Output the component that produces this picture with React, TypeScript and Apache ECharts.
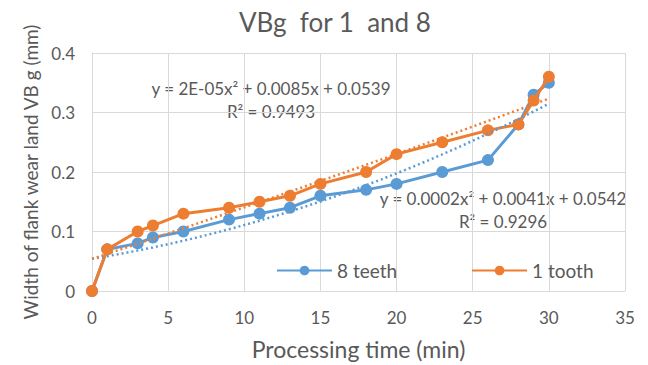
import React, { useEffect, useRef } from "react";
import * as echarts from "echarts";

const timeMin = [0, 1, 3, 4, 6, 9, 11, 13, 15, 18, 20, 23, 26, 28, 29, 30];
const vb8Teeth = [0, 0.07, 0.08, 0.09, 0.1, 0.12, 0.13, 0.14, 0.16, 0.17, 0.18, 0.2, 0.22, 0.28, 0.33, 0.35];
const vb1Tooth = [0, 0.07, 0.1, 0.11, 0.13, 0.14, 0.15, 0.16, 0.18, 0.2, 0.23, 0.25, 0.27, 0.28, 0.32, 0.36];
const seriesNames = ["8 teeth", "1 tooth"];
const eq1Tooth = ["y = 2E-05x² + 0.0085x + 0.0539", "R² = 0.9493"];
const eq8Teeth = ["y = 0.0002x² + 0.0041x + 0.0542", "R² = 0.9296"];

const BLUE = "#5B9BD5";
const ORANGE = "#ED7D31";
const TEXT = "#595959";
const GRID = "#D9D9D9";
const FONT = "Lato, 'Noto Sans', sans-serif";

function polyfit2(xs: number[], ys: number[]): number[] {
  const S = [0, 0, 0, 0, 0];
  const T = [0, 0, 0];
  for (let i = 0; i < xs.length; i++) {
    let p = 1;
    for (let k = 0; k <= 4; k++) {
      S[k] += p;
      if (k <= 2) T[k] += p * ys[i];
      p *= xs[i];
    }
  }
  const A = [
    [S[0], S[1], S[2], T[0]],
    [S[1], S[2], S[3], T[1]],
    [S[2], S[3], S[4], T[2]],
  ];
  for (let c = 0; c < 3; c++) {
    for (let r = c + 1; r < 3; r++) {
      const f = A[r][c] / A[c][c];
      for (let k = c; k < 4; k++) A[r][k] -= f * A[c][k];
    }
  }
  const sol = [0, 0, 0];
  for (let r = 2; r >= 0; r--) {
    let s = A[r][3];
    for (let k = r + 1; k < 3; k++) s -= A[r][k] * sol[k];
    sol[r] = s / A[r][r];
  }
  return sol; // c0, c1, c2
}

function trend(xs: number[], ys: number[]): number[][] {
  const [c0, c1, c2] = polyfit2(xs, ys);
  const pts: number[][] = [];
  const x0 = xs[0];
  const x1 = xs[xs.length - 1];
  for (let i = 0; i <= 60; i++) {
    const x = x0 + ((x1 - x0) * i) / 60;
    pts.push([x, c0 + c1 * x + c2 * x * x]);
  }
  return pts;
}

export default function App() {
  const ref = useRef<HTMLDivElement>(null);
  useEffect(() => {
    if (!ref.current) return;
    const chart = echarts.init(ref.current, undefined, { renderer: "svg" });
    const pair = (ys: number[]) => timeMin.map((x, i) => [x, ys[i]]);
    const eqStyle = (t: string) => ({
      text: t,
      align: "center",
      verticalAlign: "middle",
      font: `17px ${FONT}`,
      fill: TEXT,
    });
    chart.setOption({
      animation: false,
      backgroundColor: "#ffffff",
      textStyle: { fontFamily: FONT },
      title: {
        text: "VBg  for 1  and 8",
        left: 234,
        top: 4,
        textStyle: { fontFamily: FONT, fontSize: 26, fontWeight: "normal", color: TEXT },
      },
      grid: { left: 92, right: 23, top: 53, bottom: 72, containLabel: false },
      legend: {
        data: seriesNames,
        left: 271,
        top: 256,
        itemWidth: 55,
        itemHeight: 12,
        itemGap: 74,
        textStyle: { fontFamily: FONT, fontSize: 19, color: TEXT },
      },
      xAxis: {
        type: "value",
        min: 0,
        max: 35,
        interval: 5,
        name: "Processing time (min)",
        nameLocation: "middle",
        nameGap: 46,
        nameTextStyle: { fontFamily: FONT, fontSize: 23, color: TEXT },
        axisLine: { show: true, lineStyle: { color: GRID } },
        axisTick: { show: false },
        axisLabel: { fontFamily: FONT, fontSize: 17, color: TEXT, margin: 18 },
        splitLine: { show: true, lineStyle: { color: GRID } },
      },
      yAxis: {
        type: "value",
        min: 0,
        max: 0.4,
        interval: 0.1,
        name: "Width of flank wear land VB g (mm)",
        nameLocation: "middle",
        nameGap: 52,
        nameTextStyle: { fontFamily: FONT, fontSize: 19, color: TEXT },
        axisLine: { show: true, lineStyle: { color: GRID } },
        axisTick: { show: false },
        axisLabel: { fontFamily: FONT, fontSize: 17, color: TEXT, margin: 17 },
        splitLine: { show: true, lineStyle: { color: GRID } },
      },
      series: [
        {
          name: seriesNames[0],
          type: "line",
          data: pair(vb8Teeth),
          symbol: "circle",
          symbolSize: 12,
          lineStyle: { color: BLUE, width: 3 },
          itemStyle: { color: BLUE },
          z: 2,
        },
        {
          name: seriesNames[1],
          type: "line",
          data: pair(vb1Tooth),
          symbol: "circle",
          symbolSize: 12,
          lineStyle: { color: ORANGE, width: 3 },
          itemStyle: { color: ORANGE },
          z: 3,
        },
        {
          name: "trend8",
          type: "line",
          data: trend(timeMin, vb8Teeth),
          symbol: "none",
          lineStyle: { color: BLUE, width: 2.5, type: [2, 3] },
          z: 4,
          silent: true,
        },
        {
          name: "trend1",
          type: "line",
          data: trend(timeMin, vb1Tooth),
          symbol: "none",
          lineStyle: { color: ORANGE, width: 2.5, type: [2, 3] },
          z: 4,
          silent: true,
        },
      ],
      graphic: [
        { type: "text", x: 271, y: 88, style: eqStyle(eq1Tooth[0]) },
        { type: "text", x: 271, y: 111, style: eqStyle(eq1Tooth[1]) },
        { type: "text", x: 503, y: 198, style: eqStyle(eq8Teeth[0]) },
        { type: "text", x: 503, y: 221, style: eqStyle(eq8Teeth[1]) },
      ],
    });
    return () => chart.dispose();
  }, []);
  return <div ref={ref} style={{ width: 648, height: 365, position: "absolute", left: 0, top: 0 }} />;
}
